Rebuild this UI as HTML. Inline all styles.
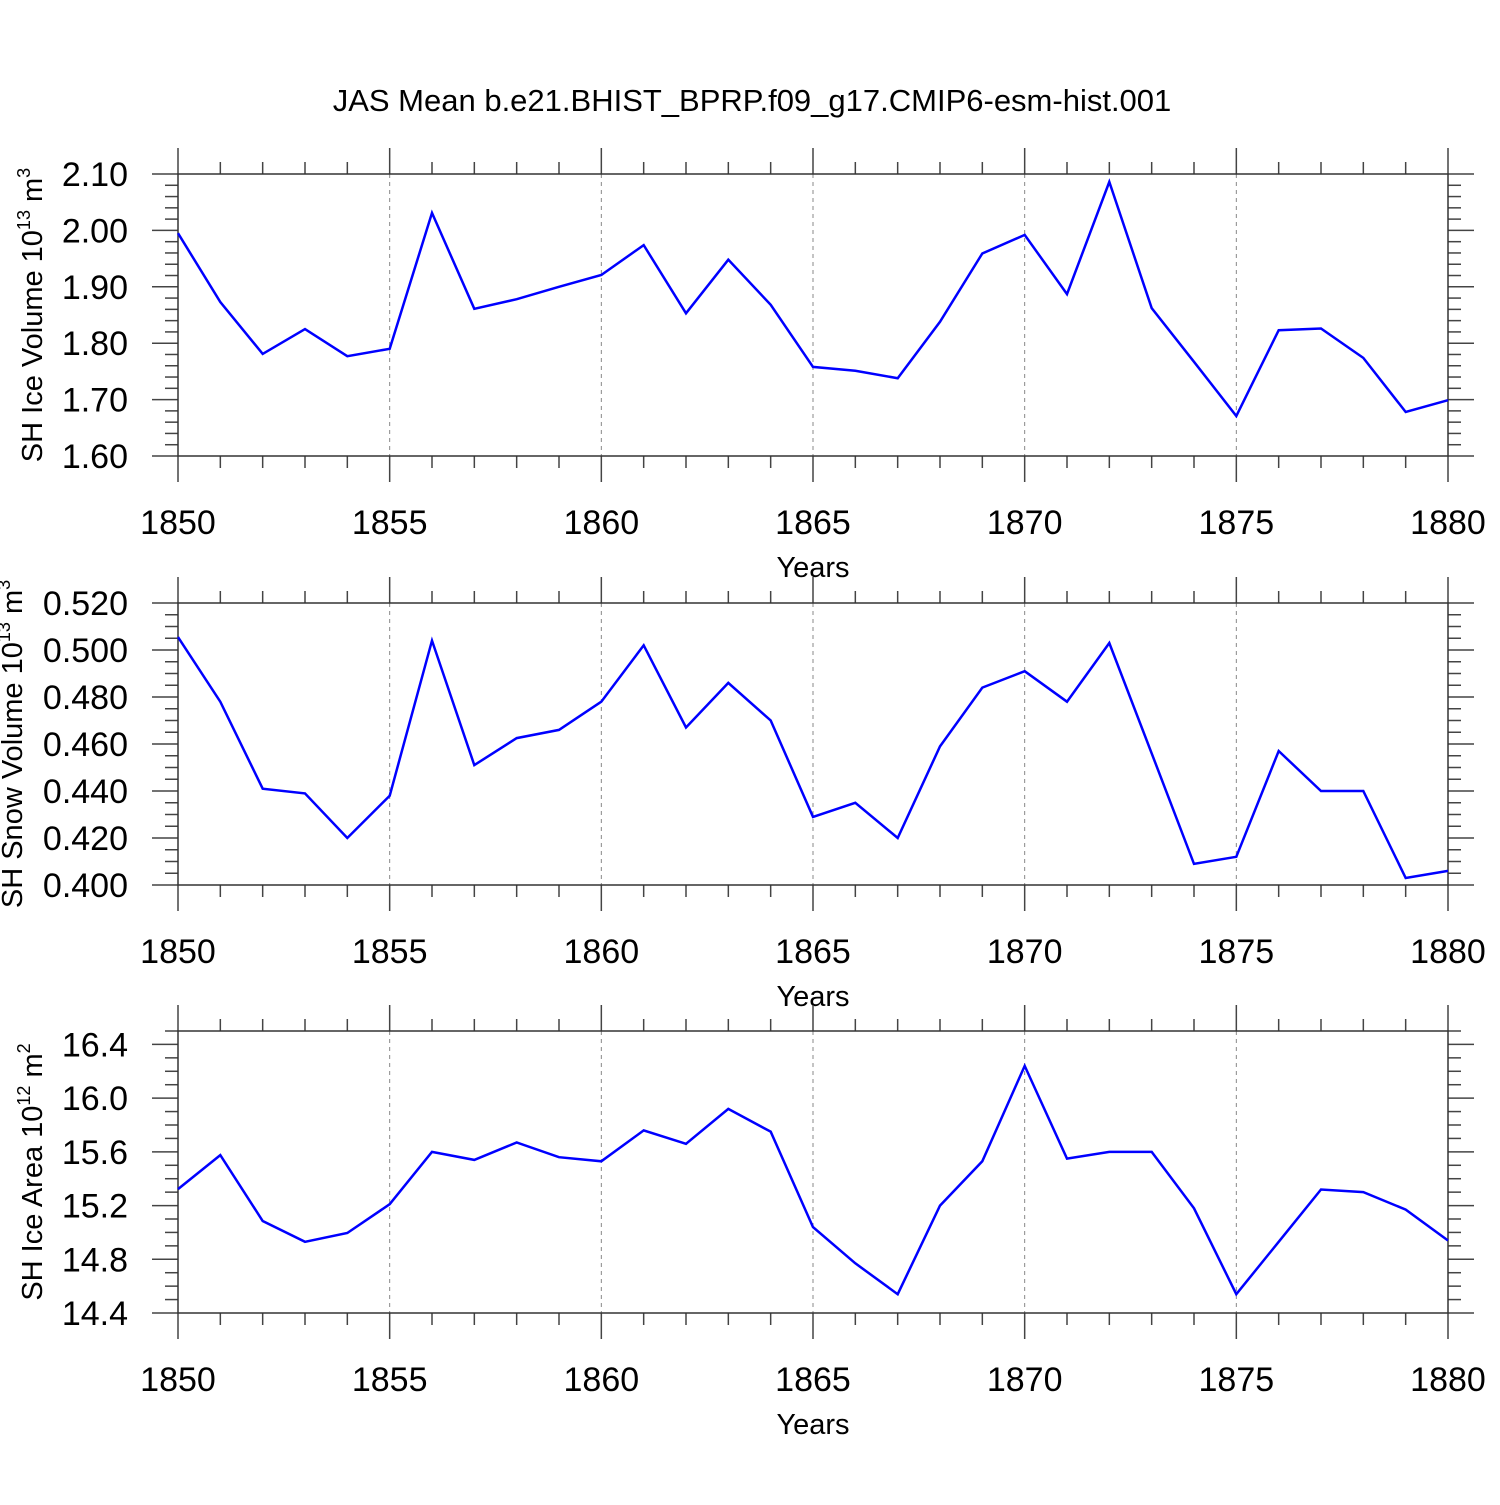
<!DOCTYPE html>
<html><head><meta charset="utf-8"><style>html,body{margin:0;padding:0;background:#fff}</style></head>
<body>
<svg id="chart" width="1500" height="1500" xmlns="http://www.w3.org/2000/svg" font-family="Liberation Sans, sans-serif">
<rect width="1500" height="1500" fill="#fff"/>
<text x="752" y="111" font-size="31" text-anchor="middle">JAS Mean b.e21.BHIST_BPRP.f09_g17.CMIP6-esm-hist.001</text>
</svg>
<script>
const years = [1850,1851,1852,1853,1854,1855,1856,1857,1858,1859,1860,1861,1862,1863,1864,1865,1866,1867,1868,1869,1870,1871,1872,1873,1874,1875,1876,1877,1878,1879,1880];
const iceVolume = [1.995,1.873,1.781,1.825,1.777,1.790,2.031,1.861,1.878,1.900,1.921,1.974,1.853,1.948,1.868,1.758,1.751,1.738,1.838,1.959,1.992,1.887,2.086,1.862,1.767,1.671,1.823,1.826,1.774,1.678,1.699];
const snowVolume = [0.5055,0.478,0.441,0.439,0.420,0.438,0.504,0.451,0.4625,0.466,0.478,0.502,0.467,0.486,0.470,0.429,0.435,0.420,0.459,0.484,0.491,0.478,0.503,0.456,0.409,0.412,0.457,0.440,0.440,0.403,0.406];
const iceArea = [15.323,15.576,15.085,14.93,14.996,15.21,15.6,15.54,15.67,15.56,15.53,15.76,15.66,15.92,15.75,15.04,14.77,14.54,15.2,15.53,16.24,15.55,15.6,15.6,15.18,14.54,14.93,15.32,15.30,15.17,14.94];
const xTicks = [1850,1855,1860,1865,1870,1875,1880];
const iceVolTicks = ["1.60","1.70","1.80","1.90","2.00","2.10"];
const snowTicks = ["0.400","0.420","0.440","0.460","0.480","0.500","0.520"];
const areaTicks = ["14.4","14.8","15.2","15.6","16.0","16.4"];

const NS = "http://www.w3.org/2000/svg";
const svg = document.getElementById('chart');
function mk(tag, attrs, parent, text){
  const e = document.createElementNS(NS, tag);
  for (const k in attrs) e.setAttribute(k, attrs[k]);
  if (text !== undefined) e.textContent = text;
  (parent||svg).appendChild(e);
  return e;
}
const X0=178, X1=1448;
function xs(v){ return X0 + (v-1850)/(1880-1850)*(X1-X0); }

function panel(key, top, ymin, ymax, ticks, minorStep, data, titleParts, titleX){
  const bot = top+282;
  const ys = v => bot - (v-ymin)/(ymax-ymin)*(bot-top);
  const g = mk('g', {});
  
  
  xTicks.forEach(t=>{
    if (t===1850||t===1880) return;
    const l = mk('line',{x1:xs(t),x2:xs(t),y1:top,y2:bot,stroke:'#888','stroke-width':1,'stroke-dasharray':'4,4'},g);
    
    
  });
  for (let yr=1850; yr<=1880; yr++){
    const major = yr%5===0;
    const len = major?26:12;
    mk('line',{x1:xs(yr),x2:xs(yr),y1:top-len,y2:top,stroke:'#444','stroke-width':1.5},g);
    mk('line',{x1:xs(yr),x2:xs(yr),y1:bot,y2:bot+len,stroke:'#444','stroke-width':1.5},g);
  }
  xTicks.forEach(t=>{
    const tx = mk('text',{x:xs(t),y:bot+78,'font-size':34,'text-anchor':'middle'},g,String(t));
    
    
  });
  const majors = ticks.map(Number);
  for (let v=ymin; v<=ymax+1e-9; v+=minorStep){
    const isMajor = majors.some(m=>Math.abs(m-v)<1e-6);
    const len = isMajor?26:13;
    mk('line',{x1:X0-len,x2:X0,y1:ys(v),y2:ys(v),stroke:'#444','stroke-width':1.5},g);
    mk('line',{x1:X1,x2:X1+len,y1:ys(v),y2:ys(v),stroke:'#444','stroke-width':1.5},g);
  }
  ticks.forEach(t=>{
    const tx = mk('text',{x:128,y:ys(Number(t))+12,'font-size':34,'text-anchor':'end'},g,t);
    
    
  });
  const fr = mk('rect',{x:X0,y:top,width:X1-X0,height:bot-top,fill:'none',stroke:'#333','stroke-width':1.5},g);
  
  
  const pts = years.map((yr,i)=>xs(yr).toFixed(1)+','+ys(data[i]).toFixed(1)).join(' ');
  const pl = mk('polyline',{points:pts,fill:'none',stroke:'#0000ff','stroke-width':2.5,'stroke-linejoin':'miter'},g);
  
  
  const xt = mk('text',{x:813,y:bot+121,'font-size':29,'text-anchor':'middle'},g,'Years');
  
  
  const yt = mk('text',{transform:`translate(${titleX},${top+141}) rotate(-90)`,'font-size':29,'text-anchor':'middle'},g);
  
  
  mk('tspan',{},yt,titleParts[0]);
  mk('tspan',{'font-size':18,dy:-12},yt,titleParts[1]);
  mk('tspan',{dy:12},yt,' m');
  mk('tspan',{'font-size':18,dy:-12},yt,titleParts[2]);
}
panel('ice-volume',174,1.60,2.10,iceVolTicks,0.02,iceVolume,['SH Ice Volume 10','13','3'],42);
panel('snow-volume',603,0.400,0.520,snowTicks,0.005,snowVolume,['SH Snow Volume 10','13','3'],22);
panel('ice-area',1031,14.4,16.5,areaTicks,0.1,iceArea,['SH Ice Area 10','12','2'],42);
</script>
</body></html>
